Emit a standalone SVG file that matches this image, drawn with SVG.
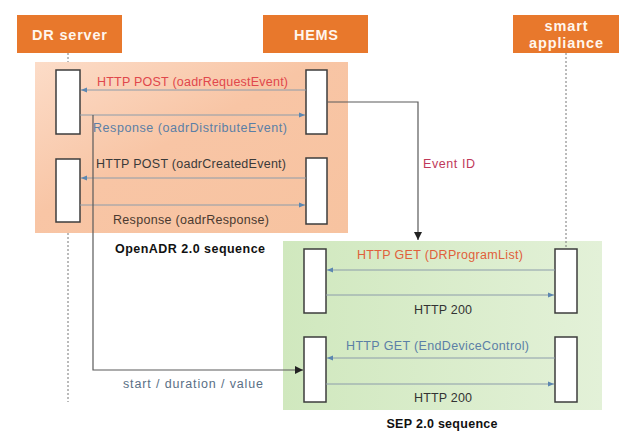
<svg xmlns="http://www.w3.org/2000/svg" width="621" height="431" viewBox="0 0 621 431">
<defs>
<linearGradient id="gOr" x1="0" y1="0" x2="1" y2="1">
<stop offset="0" stop-color="#fcdcc8"/>
<stop offset="0.45" stop-color="#f8c5a5"/>
<stop offset="1" stop-color="#f7c3a0"/>
</linearGradient>
<linearGradient id="gGr" x1="0" y1="0" x2="1" y2="0">
<stop offset="0" stop-color="#d0e8be"/>
<stop offset="1" stop-color="#e3f1d8"/>
</linearGradient>
<marker id="ah" viewBox="0 0 6 6" refX="6" refY="3" markerWidth="6" markerHeight="6" markerUnits="userSpaceOnUse" orient="auto">
<path d="M0,0.5 L6,3 L0,5.5 Z" fill="#5b86b0"/>
</marker>
<marker id="ahb" viewBox="0 0 8 8" refX="8" refY="4" markerWidth="8" markerHeight="8" markerUnits="userSpaceOnUse" orient="auto">
<path d="M0,0 L8,4 L0,8 Z" fill="#222"/>
</marker>
</defs>
<style>
.hdr{fill:#e8782c}
.ht{font-family:"Liberation Sans",Arial,sans-serif;font-weight:bold;font-size:14.5px;fill:#fff6ee;text-anchor:middle}
.act{fill:#fff;stroke:#3c3c3c;stroke-width:1.5}
.msg{stroke:#8c9caa;stroke-width:1;fill:none;marker-end:url(#ah)}
.con{stroke:#5a5a5a;stroke-width:1.2;fill:none;marker-end:url(#ahb)}
.life{stroke:#777;stroke-width:1;stroke-dasharray:2 2;fill:none}
.t{font-family:"Liberation Sans",Arial,sans-serif;font-size:12.5px}
.b{font-family:"Liberation Sans",Arial,sans-serif;font-size:12.5px;font-weight:bold;fill:#111}
</style>
<rect x="0" y="0" width="621" height="431" fill="#ffffff"/>
<g id="openadr-region">
<rect x="35" y="62" width="313" height="171" fill="url(#gOr)"/>
<text class="b" x="115" y="253" textLength="150">OpenADR 2.0 sequence</text>
</g>
<g id="sep-region">
<rect x="283" y="241" width="319" height="169" fill="url(#gGr)"/>
<text class="b" x="442" y="428" text-anchor="middle" textLength="111">SEP 2.0 sequence</text>
</g>
<g id="dr-server">
<rect class="hdr" x="17" y="15" width="105" height="38"/>
<text class="ht" x="69.5" y="40" textLength="75">DR server</text>
<path class="life" d="M68 53 V62 M68 233 V402"/>
<rect class="act" x="56" y="70" width="24" height="64"/>
<rect class="act" x="56" y="159" width="24" height="63"/>
</g>
<g id="hems">
<rect class="hdr" x="263" y="15" width="105" height="38"/>
<text class="ht" x="316" y="40" textLength="44">HEMS</text>
<rect class="act" x="306" y="70" width="21" height="64"/>
<rect class="act" x="306" y="158" width="21" height="66"/>
<rect class="act" x="304" y="249" width="22" height="64"/>
<rect class="act" x="304" y="337" width="22" height="65"/>
</g>
<g id="smart-appliance">
<rect class="hdr" x="513" y="15" width="106" height="38"/>
<text class="ht" x="566" y="31" textLength="43">smart</text>
<text class="ht" x="566" y="48" textLength="74">appliance</text>
<path class="life" d="M566 53 V249"/>
<rect class="act" x="555" y="249" width="22" height="64"/>
<rect class="act" x="555" y="337" width="22" height="65"/>
</g>
<g id="connectors">
<path class="msg" d="M306 90 H81"/>
<path class="msg" d="M80 115 H305"/>
<path class="msg" d="M306 178 H81"/>
<path class="msg" d="M80 205 H305"/>
<path class="msg" d="M555 270 H327"/>
<path class="msg" d="M326 295 H554"/>
<path class="msg" d="M555 358 H327"/>
<path class="msg" d="M326 384 H554"/>
<path class="con" d="M327 102 H418 V240"/>
<path class="con" d="M93 115 V370 H303"/>
</g>
<g id="labels">
<text class="t" x="97" y="86" fill="#e0474c" textLength="191">HTTP POST (oadrRequestEvent)</text>
<text class="t" x="93" y="132" fill="#5b7fa6" textLength="194">Response (oadrDistributeEvent)</text>
<text class="t" x="96" y="168" fill="#3a3a3a" textLength="190">HTTP POST (oadrCreatedEvent)</text>
<text class="t" x="113" y="224" fill="#4a3a30" textLength="156">Response (oadrResponse)</text>
<text class="t" x="423" y="168" fill="#c0395a" textLength="52">Event ID</text>
<text class="t" x="357" y="259" fill="#e0603a" textLength="166">HTTP GET (DRProgramList)</text>
<text class="t" x="414" y="314" fill="#333" textLength="58">HTTP 200</text>
<text class="t" x="346" y="350" fill="#5b7fa6" textLength="183">HTTP GET (EndDeviceControl)</text>
<text class="t" x="414" y="402" fill="#333" textLength="58">HTTP 200</text>
<text class="t" x="123" y="388" fill="#5a6f85" textLength="140">start / duration / value</text>
</g>
</svg>
